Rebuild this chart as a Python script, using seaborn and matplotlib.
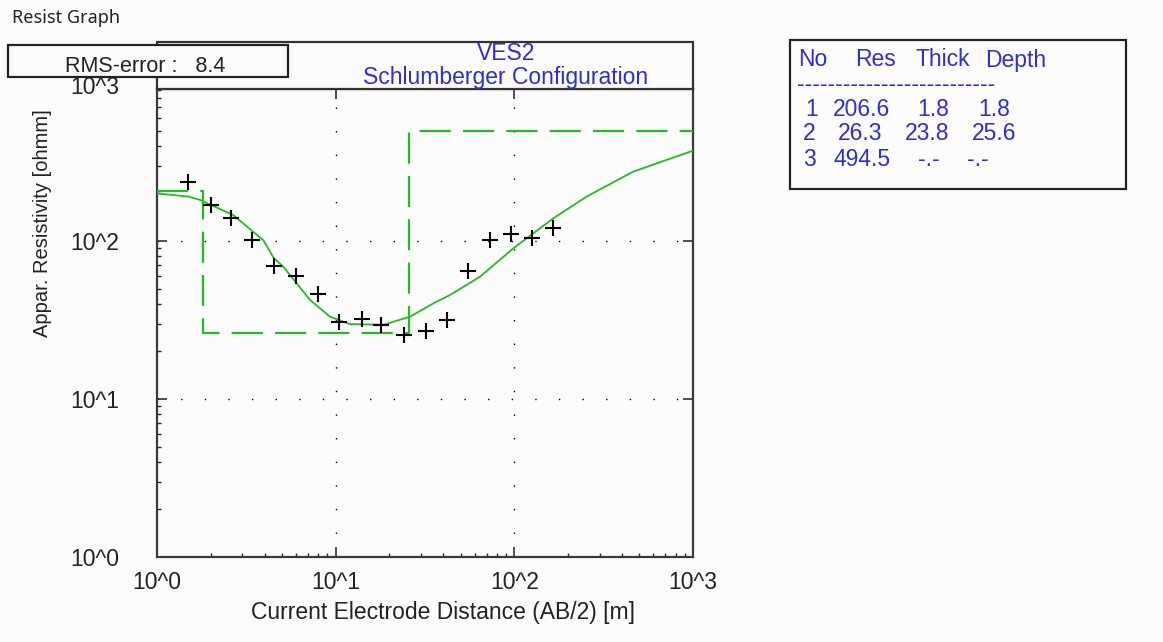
import matplotlib
matplotlib.use("Agg")
import matplotlib.pyplot as plt
import seaborn as sns
import pandas as pd
from matplotlib.patches import Rectangle
from matplotlib.ticker import LogLocator, NullFormatter, FixedLocator

# ---------------- data ----------------
ab2 = [1.5, 2.0, 2.6, 3.4, 4.5, 6.0, 8.0, 10.4, 14.0, 18.0, 24.0, 32.0, 42.0,
       55.0, 73.0, 96.0, 125.0, 165.0]
rho_obs = [235, 169, 139, 101, 69.5, 60, 46.2, 30.6, 32.1, 29.5, 25.4, 27.1,
           31.6, 64.6, 101, 110, 104, 121]

curve_x = [1.0, 1.5, 1.74, 2.67, 3.94, 4.5, 5.09, 7.18, 9.29, 12.0, 18.5,
           26.1, 35.2, 43.6, 64.2, 98.7, 165, 254, 463, 712, 1000]
curve_y = [200, 191, 182, 146, 101, 78, 68.8, 42.4, 33.2, 29.8, 29.5,
           33.2, 40.3, 45.5, 59.4, 89.9, 139, 191, 275, 326, 373]

step_x = [1.0, 1.8, 25.6, 1000.0]
step_y = [206.6, 26.3, 494.5, 494.5]

layer_no = ["1", "2", "3"]
layer_res = ["206.6", "26.3", "494.5"]
layer_thick = ["1.8", "23.8", "-.-"]
layer_depth = ["1.8", "25.6", "-.-"]

x_ticks = [1, 10, 100, 1000]
x_tick_labels = ["10^0", "10^1", "10^2", "10^3"]
y_ticks = [1, 10, 100]
y_tick_labels = ["10^0", "10^1", "10^2"]

# ---------------- style ----------------
sns.set_style("ticks")
plt.rcParams["font.family"] = ["Liberation Sans", "DejaVu Sans"]

W, H = 1163, 642
BG = "#fcfcfc"
GREEN = "#22bb22"
BLUE = "#2e2ed2"
INK = "#222222"
FS = 16.5

fig = plt.figure(figsize=(W / 100, H / 100), dpi=100, facecolor=BG)


def fx(px):
    return px / W


def fy(py):
    return 1 - py / H


ax_l, ax_r, ax_t, ax_b = 157, 693, 89, 557
ax = fig.add_axes([fx(ax_l), fy(ax_b), fx(ax_r - ax_l), (ax_b - ax_t) / H])
ax.set_facecolor(BG)
ax.set_xscale("log")
ax.set_yscale("log")
ax.set_xlim(1, 1000)
ax.set_ylim(1, 10 ** ((ax_b - ax_t) / 158.0))

obs = pd.DataFrame({"ab2": ab2, "rho": rho_obs})
fit = pd.DataFrame({"x": curve_x, "y": curve_y})
mdl = pd.DataFrame({"x": step_x, "y": step_y})

sns.lineplot(data=mdl, x="x", y="y", ax=ax, sort=False, estimator=None,
             drawstyle="steps-post", color=GREEN, lw=1.6,
             linestyle=(0, (14, 5.5)), zorder=3)
sns.lineplot(data=fit, x="x", y="y", ax=ax, sort=False, estimator=None,
             color=GREEN, lw=1.3, zorder=4)
sns.scatterplot(data=obs, x="ab2", y="rho", ax=ax, marker="+", s=130,
                color="black", linewidth=1.5, zorder=5)

# grid (dotted, major decades only)
for v in [10, 100]:
    ax.axvline(v, color="black", lw=1.0, linestyle=(0, (1, 16)), zorder=1)
    ax.axhline(v, color="black", lw=1.0, linestyle=(0, (1, 16)), zorder=1)

ax.xaxis.set_major_locator(FixedLocator(x_ticks))
ax.set_xticklabels(x_tick_labels)
ax.yaxis.set_major_locator(FixedLocator(y_ticks))
ax.set_yticklabels(y_tick_labels)
ax.xaxis.set_minor_locator(LogLocator(base=10, subs=range(2, 10), numticks=20))
ax.yaxis.set_minor_locator(LogLocator(base=10, subs=range(2, 10), numticks=20))
ax.xaxis.set_minor_formatter(NullFormatter())
ax.yaxis.set_minor_formatter(NullFormatter())
ax.tick_params(which="major", direction="in", top=True, right=True,
               length=7.5, width=1.1, color=INK, labelsize=FS,
               labelcolor=INK)
ax.tick_params(which="minor", direction="in", top=False, right=False,
               length=3, width=1.0, color=INK)
ax.tick_params(axis="x", which="major", pad=10)
ax.tick_params(axis="y", which="major", pad=27)
for s in ax.spines.values():
    s.set_color("#3a3a3a")
    s.set_linewidth(1.6)
ax.set_xlabel("")
ax.set_ylabel("")

# axis titles
fig.text(fx(443), fy(612), "Current Electrode Distance (AB/2) [m]",
         ha="center", va="center", fontsize=FS, color=INK)
fig.text(fx(43), fy(223), "Appar. Resistivity [ohmm]", rotation=90,
         ha="center", va="center", fontsize=14.5, color=INK)
fig.text(fx(119), fy(87), "10^3", ha="right", va="center", fontsize=FS,
         color=INK)

# title box
fig.add_artist(Rectangle((fx(157), fy(89)), fx(693 - 157), (89 - 42) / H,
                         transform=fig.transFigure, facecolor=BG,
                         edgecolor="#333333", lw=1.6, zorder=10))
fig.text(fx(506), fy(53), "VES2", ha="center", va="center", fontsize=FS,
         color=BLUE, zorder=11)
fig.text(fx(506), fy(77.5), "Schlumberger Configuration", ha="center",
         va="center", fontsize=FS, color=BLUE, zorder=11)

# RMS box
fig.add_artist(Rectangle((fx(8), fy(77)), fx(288 - 8), (77 - 45) / H,
                         transform=fig.transFigure, facecolor=BG,
                         edgecolor=INK, lw=1.6, zorder=12))
fig.text(fx(145), fy(66), "RMS-error :   8.4", ha="center", va="center",
         fontsize=15.5, color=INK, zorder=13)

# window caption
fig.text(fx(12), fy(18), "Resist Graph", ha="left", va="center",
         fontsize=13, color=INK, family=["Noto Sans", "DejaVu Sans"])

# layer table
fig.add_artist(Rectangle((fx(790), fy(189)), fx(1126 - 790), (189 - 40) / H,
                         transform=fig.transFigure, facecolor=BG,
                         edgecolor=INK, lw=1.6, zorder=10))
hdr = [("No", 798), ("Res", 855), ("Thick", 915), ("Depth", 985)]
for txt, x in hdr:
    fig.text(fx(x), fy(60), txt, ha="left", va="center", fontsize=FS,
             color=BLUE, zorder=11)
fig.text(fx(797), fy(85), "-" * 26, ha="left", va="center", fontsize=FS,
         color=BLUE, zorder=11)
row_y = [109, 134, 159]
col_no = [805, 803, 803]
col_res = [833, 838, 833]
col_th = [917, 905, 918]
col_de = [978, 972, 967]
for i in range(3):
    y = fy(row_y[i])
    fig.text(fx(col_no[i]), y, layer_no[i], ha="left", va="center",
             fontsize=FS, color=BLUE, zorder=11)
    fig.text(fx(col_res[i]), y, layer_res[i], ha="left", va="center",
             fontsize=FS, color=BLUE, zorder=11)
    fig.text(fx(col_th[i]), y, layer_thick[i], ha="left", va="center",
             fontsize=FS, color=BLUE, zorder=11)
    fig.text(fx(col_de[i]), y, layer_depth[i], ha="left", va="center",
             fontsize=FS, color=BLUE, zorder=11)

fig.savefig("out.png", dpi=100, facecolor=BG)
